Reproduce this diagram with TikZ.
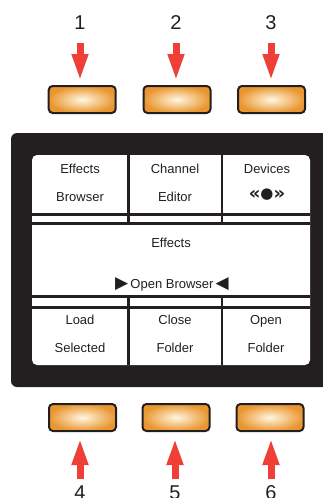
\documentclass[tikz,border=0pt]{standalone}
\usepackage{fontspec}
\setmainfont{Liberation Sans}
\newfontfamily\symfont{DejaVu Sans}
\usetikzlibrary{arrows.meta}
\definecolor{panel}{RGB}{35,31,32}
\definecolor{btnin}{RGB}{255,247,225}
\definecolor{btnout}{RGB}{233,150,48}
\definecolor{arrowred}{RGB}{238,64,54}
\begin{document}
\begin{tikzpicture}[x=1pt,y=-1pt,
  btn/.style={draw=panel, line width=2pt, rounded corners=4pt, minimum width=67pt, minimum height=27pt, inner sep=0pt, shading=radial, inner color=btnin, outer color=btnout},
  num/.style={font=\fontsize{20}{24}\selectfont, text=panel, inner sep=0pt},
  lbl/.style={font=\fontsize{13}{15}\selectfont, text=panel, anchor=base, inner sep=0pt},
  redarrow/.style={draw=arrowred, line width=7pt, -{Triangle[width=15pt,length=27pt]}},
  sep/.style={draw=panel, line width=2.8pt}]
\useasboundingbox (0,0) rectangle (323,498);
% panel and screen
\fill[panel, rounded corners=6pt] (11,133) rectangle (345,387);
\fill[white, rounded corners=5pt] (32,155) rectangle (310,365);
% separators
\draw[sep] (32,214.3) -- (310,214.3);
\draw[sep] (32,223.8) -- (310,223.8);
\draw[sep] (32,296.4) -- (310,296.4);
\draw[sep] (32,307.6) -- (310,307.6);
\draw[sep] (128.3,155) -- (128.3,225);
\draw[sep] (222,155) -- (222,225);
\draw[sep] (128.3,295) -- (128.3,365);
\draw[sep] (222,295) -- (222,365);
% screen texts
\node[lbl] (t1a) at (80,173.3) {Effects};
\node[lbl] (t1b) at (80,201.7) {Browser};
\node[lbl] (t2a) at (175,173.3) {Channel};
\node[lbl] (t2b) at (175,201.7) {Editor};
\node[lbl] (t3a) at (267,173.3) {Devices};
\node[text=panel, inner sep=0pt, font=\symfont\bfseries\fontsize{18}{20}\selectfont] (t3b) at (267,195) {«\raisebox{0.3pt}{\fontsize{15}{16}\selectfont ●}»};
\node[lbl] (tm1) at (171,247.3) {Effects};
\node[lbl] (tm2) at (172,288.3) {{\symfont\fontsize{17}{18}\selectfont ▶}\,Open Browser\,{\symfont\fontsize{17}{18}\selectfont ◀}};
\node[lbl] (t4a) at (80,324.3) {Load};
\node[lbl] (t4b) at (80,352.3) {Selected};
\node[lbl] (t5a) at (175,324.3) {Close};
\node[lbl] (t5b) at (175,352.3) {Folder};
\node[lbl] (t6a) at (266,324.3) {Open};
\node[lbl] (t6b) at (266,352.3) {Folder};
% buttons
\node[btn] (b1) at (82.2,99.5) {};
\node[btn] (b2) at (177,99.5) {};
\node[btn] (b3) at (271.5,99.5) {};
\node[btn] (b4) at (82.5,417.5) {};
\node[btn] (b5) at (176,417.5) {};
\node[btn] (b6) at (270,417.5) {};
% numbers
\node[num] (n1) at (80,22.5) {1};
\node[num] (n2) at (176,22.5) {2};
\node[num] (n3) at (271,22.5) {3};
\node[num] (n4) at (80,493) {4};
\node[num] (n5) at (175,493) {5};
\node[num] (n6) at (271,493) {6};
% arrows
\foreach \i in {1,2,3}{
  \draw[redarrow, shorten <=20.5pt, shorten >=4pt] (n\i.center) -- (n\i.center |- b\i.north);
}
\foreach \i in {4,5,6}{
  \draw[redarrow, shorten <=14pt, shorten >=6pt] (n\i.center) -- (n\i.center |- b\i.south);
}
\end{tikzpicture}
\end{document}
